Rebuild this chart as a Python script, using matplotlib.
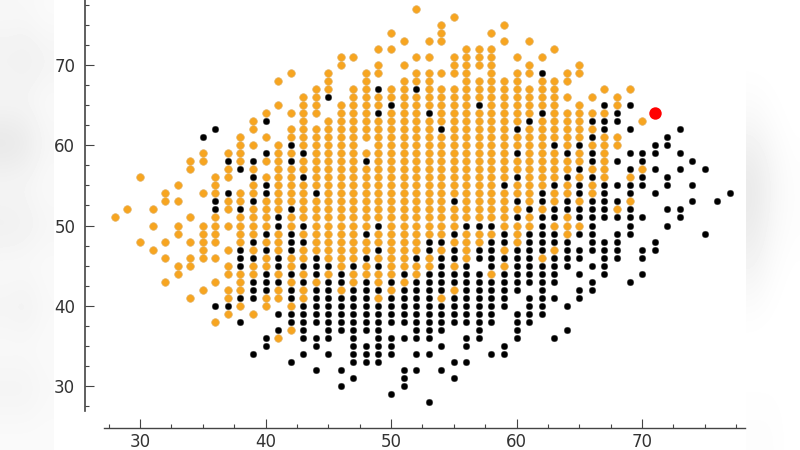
import numpy as np
import matplotlib
matplotlib.use("Agg")
import matplotlib.pyplot as plt
from matplotlib.ticker import FixedLocator, MultipleLocator

# ── DATA ──────────────────────────────────────────────────────────────────────

orange_cols = {
    28: [51],
    29: [52],
    30: [56, 48],
    31: [52, 50, 47],
    32: [54, 53, 48, 46, 43],
    33: [55, 53, 50, 49, 45, 44],
    34: [58, 57, 51, 48, 46, 45, 41],
    35: [59, 58, 54, 50, 49, 48, 47, 46, 42],
    36: [56, 55, 54, 51, 50, 49, 48, 46, 43, 38],
    37: [59, 57, 56, 53, 52, 50, 47, 45, 44, 42, 41, 39],
    38: [61, 60, 59, 58, 54, 53, 51, 50, 49, 48, 44, 43, 42, 40],
    39: [63, 62, 60, 57, 55, 54, 52, 51, 50, 49, 47, 45, 44, 39],
    40: [64, 61, 58, 56, 53, 52, 51, 50, 48, 46, 45, 41, 40],
    41: [68, 65, 60, 59, 58, 57, 56, 55, 54, 53, 52, 49, 48, 47, 44, 42, 41, 36],
    42: [69, 64, 62, 61, 59, 57, 56, 55, 54, 53, 51, 50, 46, 45, 43, 40, 37],
    43: [66, 65, 64, 63, 62, 61, 60, 58, 57, 55, 54, 53, 52, 51, 49, 47, 46, 44, 42, 41],
    44: [67, 66, 65, 64, 62, 61, 60, 59, 58, 57, 56, 55, 53, 52, 51, 50, 49, 48, 47, 43],
    45: [69, 68, 67, 63, 62, 61, 60, 59, 58, 57, 56, 55, 54, 53, 52, 51, 50, 49, 48, 47, 46, 44],
    46: [71, 70, 65, 64, 63, 62, 61, 60, 59, 58, 57, 56, 55, 54, 53, 52, 51, 50, 49, 48, 47, 46, 45, 42],
    47: [71, 67, 66, 65, 64, 63, 62, 61, 60, 59, 58, 57, 56, 55, 54, 53, 52, 51, 50, 49, 48, 47, 46, 44, 43],
    48: [69, 68, 67, 66, 65, 64, 63, 62, 61, 59, 57, 56, 55, 54, 53, 52, 51, 50, 48, 47, 45, 44],
    49: [72, 70, 69, 66, 65, 63, 62, 61, 60, 59, 58, 57, 56, 55, 54, 53, 52, 51, 49, 48, 46, 44, 43, 41],
    50: [74, 72, 67, 66, 64, 63, 62, 61, 60, 59, 58, 57, 56, 55, 54, 53, 52, 51, 50, 49, 48, 47, 46, 45, 44, 42],
    51: [73, 70, 68, 67, 66, 65, 64, 63, 62, 61, 60, 59, 58, 57, 56, 55, 54, 53, 52, 51, 50, 49, 48, 47, 46, 45, 43],
    52: [77, 71, 69, 68, 66, 65, 64, 63, 62, 61, 60, 59, 58, 57, 56, 55, 54, 53, 52, 51, 50, 49, 48, 47, 45, 44],
    53: [73, 71, 69, 68, 67, 66, 65, 63, 62, 61, 60, 59, 58, 57, 56, 55, 54, 53, 52, 51, 50, 49, 46, 45],
    54: [75, 74, 73, 69, 67, 66, 65, 64, 63, 61, 60, 59, 58, 57, 56, 55, 54, 53, 52, 51, 50, 49, 47, 41],
    55: [76, 71, 70, 69, 67, 66, 65, 64, 63, 62, 61, 60, 59, 58, 57, 56, 55, 54, 52, 51, 50, 48, 45, 42],
    56: [72, 71, 70, 69, 68, 67, 66, 65, 64, 63, 62, 61, 60, 59, 58, 57, 56, 55, 54, 53, 52, 51, 49, 48, 47, 46],
    57: [72, 71, 70, 68, 67, 66, 64, 63, 62, 61, 60, 59, 58, 57, 56, 55, 54, 53, 52, 51, 49, 48],
    58: [74, 72, 71, 70, 69, 68, 67, 66, 65, 64, 63, 62, 61, 60, 59, 58, 57, 56, 55, 54, 53, 52, 51, 49, 44],
    59: [75, 73, 68, 67, 66, 65, 64, 63, 62, 61, 60, 59, 58, 57, 56, 54, 53, 52, 51, 50, 47, 45],
    60: [71, 69, 68, 67, 66, 65, 64, 63, 61, 60, 58, 57, 55, 54, 52, 50, 49, 48],
    61: [73, 70, 69, 67, 66, 65, 64, 62, 61, 60, 59, 58, 57, 56, 55, 54, 53, 51, 50],
    62: [71, 68, 67, 66, 65, 63, 62, 61, 60, 59, 58, 57, 56, 55, 52, 46],
    63: [72, 68, 67, 66, 65, 64, 63, 62, 61, 59, 58, 57, 56, 54, 53, 50, 47],
    64: [69, 68, 66, 64, 63, 62, 61, 60, 58, 57, 55, 54, 51, 50, 49],
    65: [70, 69, 65, 64, 63, 62, 61, 59, 58, 56, 53, 50],
    66: [66, 64, 62, 60, 57, 55, 54],
    67: [67, 64, 61, 60, 59, 58, 57, 56],
    68: [66, 65, 61, 60, 52],
    69: [67, 56, 53],
    70: [63, 57],
}

black_cols = {
    35: [61],
    36: [62, 53, 52, 40],
    37: [58, 54, 40],
    38: [57, 52, 47, 46, 45, 41, 38],
    39: [58, 56, 53, 48, 46, 43, 42, 41, 34],
    40: [63, 59, 55, 54, 49, 47, 44, 43, 42, 36, 35],
    41: [51, 50, 46, 45, 43, 39, 37],
    42: [60, 58, 52, 49, 48, 47, 44, 42, 41, 39, 38, 33],
    43: [59, 56, 50, 48, 45, 43, 40, 39, 38, 37, 36, 34],
    44: [54, 46, 45, 44, 42, 41, 40, 39, 38, 36, 35, 32],
    45: [66, 45, 43, 42, 41, 40, 39, 38, 37, 36, 34],
    46: [44, 43, 41, 40, 39, 38, 37, 32, 30],
    47: [45, 42, 41, 40, 39, 38, 37, 36, 35, 34, 33, 31],
    48: [58, 49, 46, 43, 42, 41, 40, 39, 38, 37, 35, 34, 33],
    49: [67, 64, 50, 47, 45, 42, 40, 39, 38, 37, 36, 35, 34, 33],
    50: [65, 43, 41, 40, 39, 38, 36, 35, 34, 29],
    51: [44, 42, 41, 40, 39, 38, 36, 32, 31, 30],
    52: [67, 46, 43, 42, 41, 40, 39, 38, 37, 36, 34, 32],
    53: [64, 48, 47, 44, 43, 42, 41, 40, 39, 38, 37, 36, 34, 28],
    54: [62, 48, 46, 45, 44, 43, 42, 40, 39, 38, 37, 35, 32],
    55: [53, 49, 47, 46, 44, 43, 41, 40, 39, 38, 33, 31],
    56: [50, 45, 44, 43, 42, 41, 40, 39, 38, 36, 35, 33],
    57: [65, 50, 47, 46, 44, 43, 42, 41, 40, 39, 38, 37, 36],
    58: [50, 48, 47, 46, 45, 43, 42, 41, 40, 39, 38, 34],
    59: [55, 49, 48, 46, 44, 43, 42, 41, 40, 35, 34],
    60: [62, 59, 56, 53, 51, 47, 46, 45, 44, 43, 42, 39, 38, 37, 36],
    61: [63, 52, 49, 48, 47, 46, 45, 44, 43, 41, 40, 39, 38],
    62: [69, 64, 54, 53, 51, 50, 49, 48, 47, 45, 44, 43, 42, 41, 40, 39],
    63: [60, 55, 52, 51, 49, 48, 46, 45, 44, 43, 41, 36],
    64: [59, 56, 53, 52, 48, 47, 46, 45, 40, 37],
    65: [60, 57, 55, 54, 52, 51, 49, 47, 46, 44, 42, 41],
    66: [63, 61, 59, 58, 56, 53, 52, 51, 50, 49, 48, 47, 45, 43, 42],
    67: [65, 63, 62, 55, 54, 53, 52, 51, 48, 47, 46, 45, 44],
    68: [64, 63, 58, 55, 53, 51, 49, 48, 47, 46],
    69: [65, 62, 59, 57, 55, 54, 52, 51, 50, 49, 43],
    70: [59, 58, 56, 55, 51, 47, 46, 44],
    71: [60, 59, 57, 54, 48, 47],
    72: [61, 60, 56, 55, 52, 50],
    73: [62, 59, 57, 52, 51],
    74: [58, 55, 53],
    75: [57, 49],
    76: [53],
    77: [54],
}

red_x = [71]
red_y = [64]

# blurred grey strips either side of the white plot card
left_strip = [
    [0.97, 0.97, 0.98],
    [0.94, 0.93, 0.95],
    [0.97, 0.97, 0.98],
    [0.89, 0.91, 0.96],
    [0.97, 0.97, 0.98],
    [0.93, 0.94, 0.96],
    [0.98, 0.98, 0.98],
    [0.95, 0.94, 0.97],
    [0.98, 0.98, 0.98],
    [0.95, 0.95, 0.97],
    [0.98, 0.98, 0.98],
]
right_strip = [
    [1.00, 1.00, 1.00],
    [1.00, 1.00, 1.00],
    [0.97, 0.99, 1.00],
    [0.91, 0.96, 0.99],
    [0.92, 0.97, 0.99],
    [0.96, 0.99, 1.00],
    [1.00, 1.00, 1.00],
    [1.00, 1.00, 1.00],
    [0.99, 0.99, 1.00],
]

# ── PLOT ──────────────────────────────────────────────────────────────────────

W, H = 800, 450
fig = plt.figure(figsize=(W / 100, H / 100), dpi=100, facecolor='white')

for strip, x0, x1 in [(left_strip, 0, 54), (right_strip, 746, 800)]:
    bg = fig.add_axes([x0 / W, 0, (x1 - x0) / W, 1], zorder=0)
    bg.imshow(strip, cmap='gray', vmin=0, vmax=1, aspect='auto', interpolation='bicubic')
    bg.axis('off')

ax = fig.add_axes([85 / W, (H - 428) / H, 660 / W, 428 / H], zorder=1)
ax.patch.set_alpha(0)

for x, ys in orange_cols.items():
    ax.scatter([x] * len(ys), ys, s=30, color='#f7a520', edgecolors='#e2b468',
               linewidths=0.5, zorder=3, clip_on=False)
for x, ys in black_cols.items():
    ax.scatter([x] * len(ys), ys, s=23, color='black', edgecolors='#555555',
               linewidths=0.3, zorder=3, clip_on=False)
ax.scatter(red_x, red_y, s=80, color='#ff0000', linewidths=0, zorder=4)

ax.set_xlim(25.62, 78.2)
ax.set_ylim(24.77, 78.1)

ax.spines['top'].set_visible(False)
ax.spines['right'].set_visible(False)
ax.spines['left'].set_bounds(26.9, 78.1)
ax.spines['bottom'].set_bounds(27.13, 78.2)
ax.spines['left'].set_linewidth(1.2)
ax.spines['bottom'].set_linewidth(1.0)
ax.spines['left'].set_color('#444444')
ax.spines['bottom'].set_color('#444444')

ax.xaxis.set_major_locator(MultipleLocator(10))
ax.xaxis.set_minor_locator(MultipleLocator(2.5))
ax.yaxis.set_major_locator(FixedLocator([30, 40, 50, 60, 70]))
ax.yaxis.set_minor_locator(FixedLocator(np.arange(27.5, 78, 2.5)))
ax.tick_params(which='major', direction='in', length=6.5, width=0.8, color='#444444',
               labelsize=12, labelcolor='#333333')
ax.tick_params(which='minor', direction='in', length=3, width=0.8, color='#444444')
ax.tick_params(axis='x', which='major', pad=3.5)
ax.tick_params(axis='y', which='major', pad=7)

fig.savefig("out.png", dpi=100)
